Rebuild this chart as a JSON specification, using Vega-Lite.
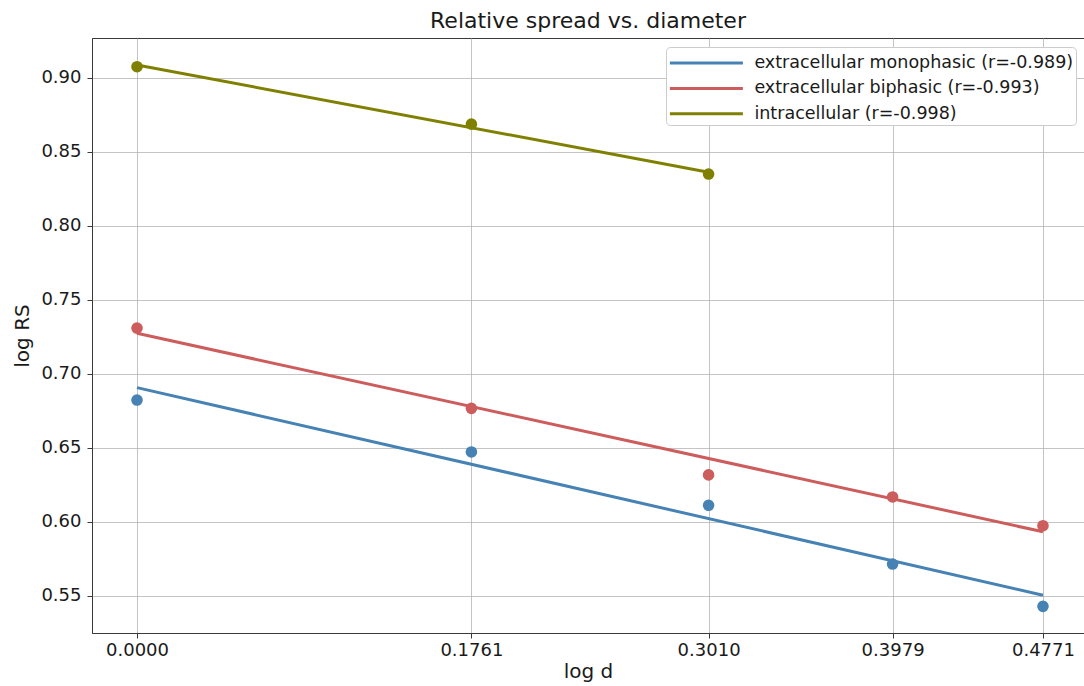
{
  "$schema": "https://vega.github.io/schema/vega-lite/v6.json",
  "width": 992,
  "height": 595,
  "autosize": {"type": "none"},
  "padding": {"left": 92, "top": 38, "right": 0, "bottom": 53},
  "background": "white",
  "title": {
    "text": "Relative spread vs. diameter",
    "fontSize": 22,
    "fontWeight": "normal",
    "color": "#1a1a1a",
    "anchor": "middle",
    "offset": 5
  },
  "config": {
    "font": "DejaVu Sans",
    "view": {"stroke": "#3a3a3a", "strokeWidth": 1},
    "axis": {
      "domainColor": "#3a3a3a",
      "tickColor": "#3a3a3a",
      "tickSize": 5,
      "labelColor": "#1a1a1a",
      "labelFontSize": 18,
      "titleColor": "#1a1a1a",
      "titleFontSize": 20,
      "titleFontWeight": "normal",
      "gridColor": "#b0b0b0",
      "gridOpacity": 0.75,
      "gridWidth": 1
    },
    "legend": {
      "fillColor": "white",
      "strokeColor": "#cccccc",
      "cornerRadius": 4,
      "padding": 2,
      "labelFontSize": 17.5,
      "labelColor": "#1a1a1a",
      "labelLimit": 0,
      "symbolType": "M-3,0H3",
      "symbolSize": 592,
      "symbolOffset": 24.4,
      "symbolStrokeWidth": 3,
      "labelOffset": 34,
      "rowPadding": 2.4
    }
  },
  "datasets": {
    "measured": [
      {"series": "extracellular monophasic (r=-0.989)", "logd": 0.0, "logrs": 0.6824},
      {"series": "extracellular monophasic (r=-0.989)", "logd": 0.1761, "logrs": 0.6473},
      {"series": "extracellular monophasic (r=-0.989)", "logd": 0.301, "logrs": 0.6113},
      {"series": "extracellular monophasic (r=-0.989)", "logd": 0.3979, "logrs": 0.5716},
      {"series": "extracellular monophasic (r=-0.989)", "logd": 0.4771, "logrs": 0.543},
      {"series": "extracellular biphasic (r=-0.993)", "logd": 0.0, "logrs": 0.731},
      {"series": "extracellular biphasic (r=-0.993)", "logd": 0.1761, "logrs": 0.6768},
      {"series": "extracellular biphasic (r=-0.993)", "logd": 0.301, "logrs": 0.6318},
      {"series": "extracellular biphasic (r=-0.993)", "logd": 0.3979, "logrs": 0.6169},
      {"series": "extracellular biphasic (r=-0.993)", "logd": 0.4771, "logrs": 0.5975},
      {"series": "intracellular (r=-0.998)", "logd": 0.0, "logrs": 0.9076},
      {"series": "intracellular (r=-0.998)", "logd": 0.1761, "logrs": 0.8688},
      {"series": "intracellular (r=-0.998)", "logd": 0.301, "logrs": 0.8351}
    ],
    "fitted": [
      {"series": "extracellular monophasic (r=-0.989)", "logd": 0.0, "logrs": 0.6908},
      {"series": "extracellular monophasic (r=-0.989)", "logd": 0.4771, "logrs": 0.5505},
      {"series": "extracellular biphasic (r=-0.993)", "logd": 0.0, "logrs": 0.7275},
      {"series": "extracellular biphasic (r=-0.993)", "logd": 0.4771, "logrs": 0.5934},
      {"series": "intracellular (r=-0.998)", "logd": 0.0, "logrs": 0.9088},
      {"series": "intracellular (r=-0.998)", "logd": 0.301, "logrs": 0.8363}
    ]
  },
  "encoding": {
    "x": {
      "field": "logd",
      "type": "quantitative",
      "title": "log d",
      "scale": {"domain": [-0.0237, 0.4987], "nice": false, "zero": false},
      "axis": {
        "values": [0, 0.1761, 0.301, 0.3979, 0.4771],
        "format": ".4f",
        "labelPadding": 3,
        "titlePadding": 2
      }
    },
    "y": {
      "field": "logrs",
      "type": "quantitative",
      "title": "log RS",
      "scale": {"domain": [0.525, 0.927], "nice": false, "zero": false},
      "axis": {
        "values": [0.55, 0.6, 0.65, 0.7, 0.75, 0.8, 0.85, 0.9],
        "format": ".2f",
        "labelPadding": 6,
        "titlePadding": 8
      }
    },
    "color": {
      "field": "series",
      "type": "nominal",
      "sort": null,
      "scale": {
        "domain": [
          "extracellular monophasic (r=-0.989)",
          "extracellular biphasic (r=-0.993)",
          "intracellular (r=-0.998)"
        ],
        "range": ["#4682b4", "#cd5c5c", "#808000"]
      },
      "legend": {
        "title": null,
        "orient": "none",
        "legendX": 574,
        "legendY": 9
      }
    }
  },
  "layer": [
    {
      "data": {"name": "fitted"},
      "mark": {"type": "line", "strokeWidth": 3},
      "encoding": {"detail": {"field": "series"}}
    },
    {
      "data": {"name": "measured"},
      "mark": {"type": "circle", "size": 135, "opacity": 1}
    }
  ]
}
